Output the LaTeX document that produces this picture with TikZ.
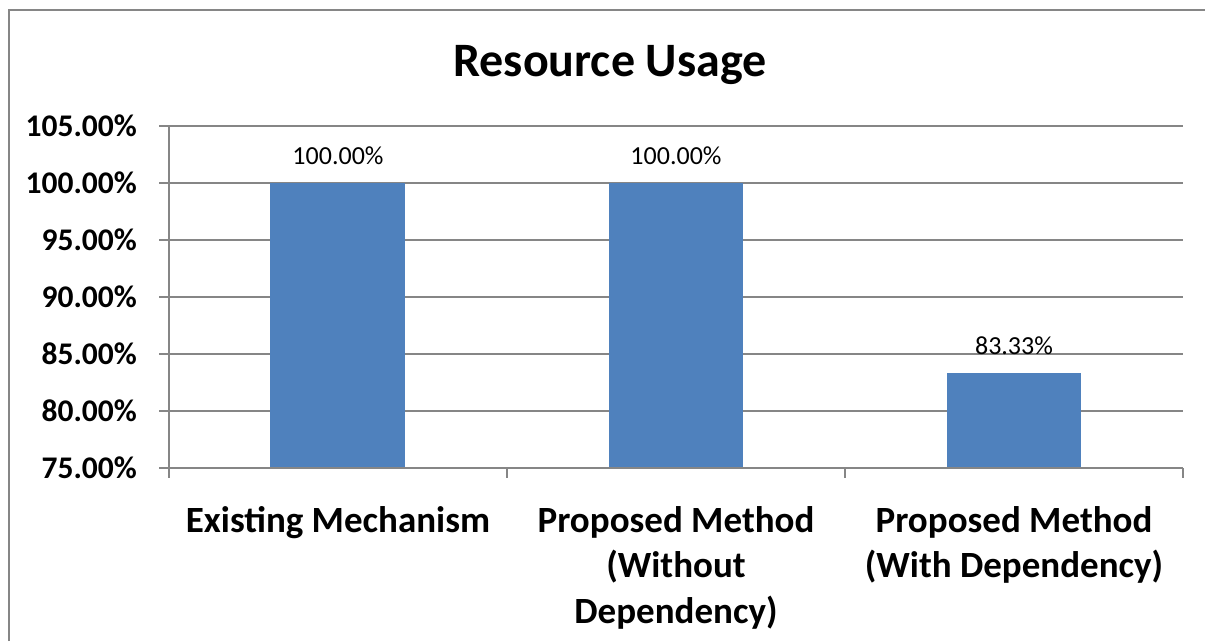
\documentclass[tikz,border=0pt]{standalone}
\usepackage{fontspec}
\setmainfont{Carlito}
\usepackage{tikz}
\usetikzlibrary{positioning}
\definecolor{BarBlue}{RGB}{79,129,189}
\definecolor{AxisGray}{RGB}{134,134,134}

\begin{document}
\begin{tikzpicture}[x=1pt, y=-1pt]
\tikzset{GridStyle/.style = {draw=AxisGray, line width=1.5pt}}
\tikzset{BarStyle/.style = {fill=BarBlue}}
\tikzset{TickStyle/.style = {font=\bfseries\fontsize{31.5}{36}\selectfont, anchor=east, inner sep=0pt}}
\tikzset{LabelStyle/.style = {font=\fontsize{26}{30}\selectfont, anchor=base, inner sep=0pt}}
\tikzset{CatStyle/.style = {font=\bfseries\fontsize{37}{45.5}\selectfont, anchor=north, align=center, inner sep=0pt}}
\useasboundingbox (0,0) rectangle (1205,641);
% outer frame
\draw[GridStyle] (9,641) -- (9,10) -- (1205,10);
\node[font=\bfseries\fontsize{48}{58}\selectfont, anchor=base, inner sep=0pt] (T) at (610,76) {Resource Usage};
% gridlines and y labels
\foreach \v [count=\i from 0] in {105,100,95,90,85,80,75}
{
	\draw[GridStyle] (159,126+57*\i) -- (1183,126+57*\i);
	\node[TickStyle] (Y\i) at (137,126+57*\i) {\v.00\%};
}
% bars
\fill[BarStyle] (270,468) rectangle (405,183);
\fill[BarStyle] (609,468) rectangle (743,183);
\fill[BarStyle] (947,468) rectangle (1081,373);
\node[LabelStyle] (A) at (338,164) {100.00\%};
\node[LabelStyle] (B) at (676,164) {100.00\%};
\node[LabelStyle] (C) at (1014,354) {83.33\%};
% axes
\draw[GridStyle] (169,126) -- (169,478);
\draw[GridStyle] (159,468) -- (1183,468);
\foreach \x in {507,845,1183}
	\draw[GridStyle] (\x,468) -- (\x,478);
\node[CatStyle] (E) at (338,506) {Existing Mechanism};
\node[CatStyle] (W) at (676,506) {Proposed Method\\(Without\\Dependency)};
\node[CatStyle] (D) at (1014,506) {Proposed Method\\(With Dependency)};
\end{tikzpicture}
\end{document}
